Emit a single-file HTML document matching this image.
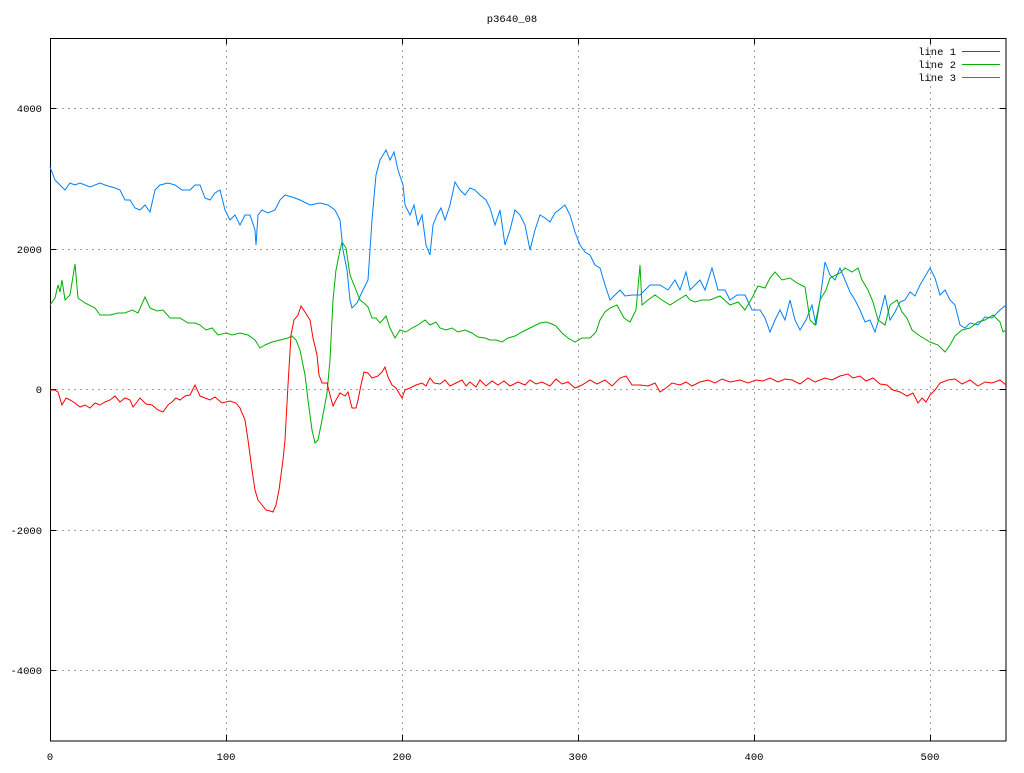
<!DOCTYPE html>
<html><head><meta charset="utf-8"><style>
html,body{margin:0;padding:0;background:#fff;}
svg text{font-family:"Liberation Mono","DejaVu Sans Mono",monospace;font-size:10.5px;fill:#000;}
</style></head><body>
<svg width="1024" height="768" viewBox="0 0 1024 768" xmlns="http://www.w3.org/2000/svg">
<rect width="1024" height="768" fill="#fff"/>
<g stroke="#a0a0a0" stroke-dasharray="2,4" stroke-width="1">
<line x1="50" y1="108.5" x2="1006" y2="108.5"/>
<line x1="50" y1="249.5" x2="1006" y2="249.5"/>
<line x1="50" y1="389.5" x2="1006" y2="389.5"/>
<line x1="50" y1="530.5" x2="1006" y2="530.5"/>
<line x1="50" y1="670.5" x2="1006" y2="670.5"/>
<line x1="226.5" y1="38" x2="226.5" y2="741"/>
<line x1="402.5" y1="38" x2="402.5" y2="741"/>
<line x1="578.5" y1="38" x2="578.5" y2="741"/>
<line x1="754.5" y1="38" x2="754.5" y2="741"/>
<line x1="930.5" y1="38" x2="930.5" y2="741"/>
</g>
<rect x="50.5" y="38.5" width="955.5" height="702.5" fill="none" stroke="#000"/>
<g stroke="#000">
<line x1="50" y1="108.5" x2="56" y2="108.5"/><line x1="1000" y1="108.5" x2="1006" y2="108.5"/>
<line x1="50" y1="249.5" x2="56" y2="249.5"/><line x1="1000" y1="249.5" x2="1006" y2="249.5"/>
<line x1="50" y1="389.5" x2="56" y2="389.5"/><line x1="1000" y1="389.5" x2="1006" y2="389.5"/>
<line x1="50" y1="530.5" x2="56" y2="530.5"/><line x1="1000" y1="530.5" x2="1006" y2="530.5"/>
<line x1="50" y1="670.5" x2="56" y2="670.5"/><line x1="1000" y1="670.5" x2="1006" y2="670.5"/>
<line x1="226.5" y1="741" x2="226.5" y2="735"/><line x1="226.5" y1="38" x2="226.5" y2="44"/>
<line x1="402.5" y1="741" x2="402.5" y2="735"/><line x1="402.5" y1="38" x2="402.5" y2="44"/>
<line x1="578.5" y1="741" x2="578.5" y2="735"/><line x1="578.5" y1="38" x2="578.5" y2="44"/>
<line x1="754.5" y1="741" x2="754.5" y2="735"/><line x1="754.5" y1="38" x2="754.5" y2="44"/>
<line x1="930.5" y1="741" x2="930.5" y2="735"/><line x1="930.5" y1="38" x2="930.5" y2="44"/>
</g>
<text x="512" y="22" text-anchor="middle">p3640_08</text>
<g text-anchor="end">
<text x="42" y="112">4000</text><text x="42" y="253">2000</text><text x="42" y="393">0</text>
<text x="42" y="534">-2000</text><text x="42" y="674">-4000</text>
</g>
<g text-anchor="middle">
<text x="50" y="760">0</text><text x="226" y="760">100</text><text x="402" y="760">200</text>
<text x="578" y="760">300</text><text x="754" y="760">400</text><text x="930" y="760">500</text>
</g>
<g text-anchor="end">
<text x="956" y="55">line 1</text><text x="956" y="68">line 2</text><text x="956" y="81">line 3</text>
</g>
<line x1="962" y1="51.5" x2="1000" y2="51.5" stroke="#ff0000"/>
<line x1="962" y1="64.5" x2="1000" y2="64.5" stroke="#00b000"/>
<line x1="962" y1="77.5" x2="1000" y2="77.5" stroke="#0080ff"/>
<g fill="none" stroke-width="1">
<polyline stroke="#0080ff" points="50,167 55,180 60,185 65,190 70,183 75,185 80,183 90,187 100,183 105,185 115,188 120,190 125,200 130,200 135,208 140,210 145,205 150,212 155,190 160,185 168,183 175,185 182,190 190,190 195,185 200,185 205,198 210,200 215,193 220,190 225,210 230,220 235,215 240,225 245,215 250,215 255,230 256,245 258,215 262,210 268,213 275,210 280,200 285,195 295,198 300,200 310,205 320,203 328,205 335,210 340,220 343,250 347,270 350,300 352,308 357,303 362,292 368,280 372,220 376,175 380,160 386,150 390,160 394,152 398,170 403,185 405,205 410,215 414,205 418,225 422,215 426,245 430,255 433,225 437,215 441,208 445,220 450,205 455,182 460,190 465,195 470,188 475,190 480,195 486,200 490,208 495,225 500,210 505,245 510,230 515,210 520,215 525,225 530,250 535,230 540,215 545,218 550,222 555,213 565,205 570,215 575,232 580,245 585,252 590,255 595,265 600,268 605,285 610,300 615,295 620,290 625,296 632,295 640,295 650,285 660,285 668,290 675,280 680,290 686,272 690,290 700,280 705,290 712,268 718,290 725,290 730,300 737,295 745,295 752,310 760,310 765,318 770,332 775,320 780,310 785,320 790,300 795,320 800,330 806,320 812,305 816,325 820,300 825,262 830,275 835,280 840,268 845,280 850,292 855,300 860,310 865,322 870,320 875,332 880,315 885,295 890,320 895,312 900,302 905,300 910,292 915,296 920,285 930,268 935,278 940,295 945,290 950,300 955,305 960,325 965,328 970,323 978,325 985,317 992,318 1000,310 1006,305"/>
<polyline stroke="#00b000" points="50,305 55,298 58,285 60,292 62,280 65,300 70,295 75,264 78,298 85,303 95,308 100,315 110,315 118,313 125,313 132,310 138,313 145,297 150,308 157,311 163,310 170,318 180,318 188,323 195,323 200,325 206,330 212,328 218,335 226,333 232,335 240,333 248,335 255,340 260,348 265,345 272,342 280,340 288,338 292,336 296,340 300,350 305,375 308,400 312,430 315,443 318,440 322,420 327,393 330,360 333,300 336,270 339,255 342,242 346,248 350,275 356,290 360,300 364,303 368,307 372,318 376,318 380,323 386,316 390,328 395,338 400,330 406,332 412,328 418,325 425,320 430,325 436,322 440,328 446,330 452,328 458,332 465,330 472,333 478,337 485,338 490,340 496,340 502,342 508,338 515,336 522,332 530,328 540,323 546,322 552,324 556,326 562,333 568,338 575,342 582,338 590,338 596,332 600,320 605,312 610,308 617,305 624,318 630,322 636,310 640,265 642,305 648,300 655,295 662,300 670,305 678,300 686,295 690,300 695,302 702,300 710,300 720,296 730,305 738,302 745,310 752,298 758,286 765,288 770,278 775,272 782,280 790,278 797,283 805,287 810,320 815,325 820,300 826,290 830,278 840,273 845,268 852,272 858,268 862,280 868,290 873,302 878,320 885,325 890,305 897,300 902,312 907,318 912,330 920,336 930,342 938,345 945,352 950,345 955,336 962,330 970,328 978,322 985,320 993,315 1000,322 1003,332 1006,330"/>
<polyline stroke="#ff0000" points="50,390 55,390 58,392 62,405 66,398 70,400 75,403 80,407 85,405 90,408 95,403 100,405 105,402 110,400 115,396 120,402 125,398 130,400 133,407 137,402 140,398 146,404 152,405 158,410 163,412 168,405 172,402 176,398 180,400 185,396 190,395 195,385 200,396 205,398 210,400 215,397 222,403 230,401 236,403 240,408 245,420 248,440 252,470 255,490 258,500 262,505 266,510 270,511 273,512 276,505 279,490 283,460 285,440 288,385 291,335 294,320 298,315 301,306 305,312 310,320 313,338 317,355 319,375 322,383 327,383 330,395 333,406 336,400 340,393 345,396 348,392 352,408 356,408 358,400 361,385 364,372 368,373 372,378 378,376 382,372 385,367 388,377 392,385 396,388 402,398 405,390 410,388 416,385 422,383 426,386 430,378 434,383 440,384 445,380 450,386 456,383 462,380 466,386 470,382 476,387 480,380 486,386 492,381 498,385 504,381 510,386 518,382 525,385 530,380 536,384 542,382 550,386 556,379 562,384 568,382 575,388 582,385 590,380 597,384 605,380 612,386 620,378 626,376 632,385 640,385 648,386 655,383 660,392 666,388 672,383 680,385 686,382 692,386 700,382 708,380 715,383 722,379 730,382 740,380 748,383 756,380 763,381 770,378 778,382 785,379 792,380 800,384 808,378 815,382 825,378 832,380 840,376 848,374 853,378 860,376 866,381 873,378 880,384 887,385 893,390 900,392 907,396 913,393 918,403 922,398 926,402 930,395 935,390 940,383 948,380 955,379 962,384 970,380 978,386 985,382 992,383 1000,380 1006,385"/>
</g>
</svg>
</body></html>
